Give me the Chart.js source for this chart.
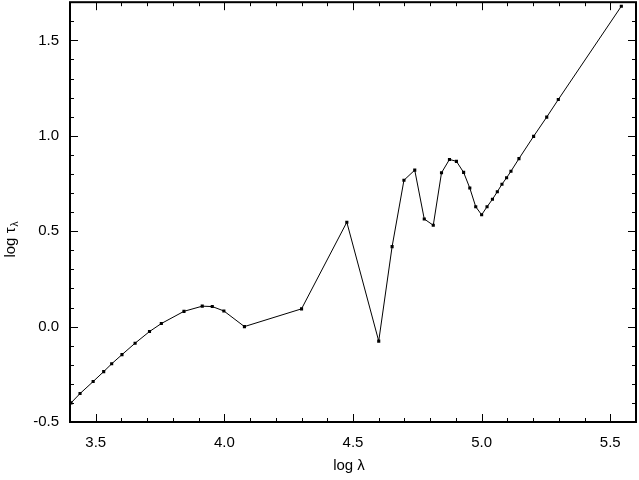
<!DOCTYPE html>
<html>
<head>
<meta charset="utf-8">
<script src="https://cdn.jsdelivr.net/npm/chart.js@4"></script>
<style>
  body { margin: 0; background: #fff; }
  #wrap { width: 639px; height: 480px; }
</style>
</head>
<body>
<div id="wrap"><canvas id="tauChart"></canvas></div>
<script>
// log lambda / log tau_lambda 값
const logLambda = [3.404, 3.439, 3.490, 3.531, 3.562, 3.602, 3.653, 3.709, 3.755, 3.843,
  3.914, 3.953, 3.998, 4.078, 4.300, 4.476, 4.600, 4.652, 4.698, 4.740,
  4.777, 4.812, 4.844, 4.875, 4.902, 4.930, 4.954, 4.977, 5.000, 5.021,
  5.042, 5.061, 5.079, 5.097, 5.114, 5.145, 5.202, 5.253, 5.298, 5.543];
const logTau = [-0.400, -0.351, -0.288, -0.236, -0.195, -0.147, -0.087, -0.026, 0.016, 0.080,
  0.107, 0.105, 0.082, 0.000, 0.093, 0.547, -0.076, 0.419, 0.767, 0.820,
  0.564, 0.531, 0.806, 0.876, 0.866, 0.808, 0.726, 0.628, 0.586, 0.628,
  0.667, 0.707, 0.746, 0.780, 0.814, 0.880, 0.997, 1.098, 1.190, 1.679];

// 축 눈금
const xTicks = [3.5, 4.0, 4.5, 5.0, 5.5];
const yTicks = [-0.5, 0.0, 0.5, 1.0, 1.5];
const xRange = [3.4, 5.6];
const yRange = [-0.5, 1.7];

Chart.defaults.font.family = '"Liberation Sans", Arial, sans-serif';
Chart.defaults.color = '#000';

// 테두리, 안쪽 눈금, 축 제목 그리기
const framePlugin = {
  id: 'frame',
  afterDraw(chart) {
    const { ctx, chartArea: a, scales: { x, y } } = chart;
    ctx.save();
    ctx.strokeStyle = '#000';
    ctx.lineWidth = 1;
    ctx.beginPath();
    for (let i = 0; i <= 22; i++) {
      const v = xRange[0] + i * 0.1;
      const px = Math.round(x.getPixelForValue(v)) + 0.5;
      const len = xTicks.some(t => Math.abs(t - v) < 1e-6) ? 8 : 4;
      ctx.moveTo(px, a.bottom); ctx.lineTo(px, a.bottom - len);
      ctx.moveTo(px, a.top); ctx.lineTo(px, a.top + len);
    }
    for (let i = 0; i <= 22; i++) {
      const v = yRange[0] + i * 0.1;
      const py = Math.round(y.getPixelForValue(v)) + 0.5;
      const len = yTicks.some(t => Math.abs(t - v) < 1e-6) ? 8 : 4;
      ctx.moveTo(a.left, py); ctx.lineTo(a.left + len, py);
      ctx.moveTo(a.right, py); ctx.lineTo(a.right - len, py);
    }
    ctx.stroke();

    ctx.lineWidth = 2;
    ctx.strokeRect(a.left, a.top, a.right - a.left, a.bottom - a.top);

    // x축 제목
    ctx.fillStyle = '#000';
    ctx.font = '15px "Liberation Sans", Arial, sans-serif';
    ctx.textAlign = 'center';
    ctx.textBaseline = 'middle';
    ctx.fillText('log \u03bb', 349, 466);

    // y축 제목 (아래첨자 포함)
    ctx.translate(11, 240);
    ctx.rotate(-Math.PI / 2);
    ctx.textAlign = 'left';
    const main = 'log \u03c4';
    const w1 = ctx.measureText(main).width;
    ctx.font = '10px "Liberation Sans", Arial, sans-serif';
    const w2 = ctx.measureText('\u03bb').width;
    const start = -(w1 + w2) / 2;
    ctx.font = '15px "Liberation Sans", Arial, sans-serif';
    ctx.fillText(main, start, 0);
    ctx.font = '10px "Liberation Sans", Arial, sans-serif';
    ctx.fillText('\u03bb', start + w1 + 1, 4);
    ctx.restore();
  }
};

new Chart(document.getElementById('tauChart'), {
  type: 'scatter',
  data: {
    datasets: [{
      data: logLambda.map((v, i) => ({ x: v, y: logTau[i] })),
      showLine: true,
      borderColor: '#000',
      borderWidth: 1,
      backgroundColor: '#000',
      pointStyle: 'rect',
      pointRadius: 2.2,
      pointBorderWidth: 0,
      pointHoverRadius: 2.2
    }]
  },
  options: {
    responsive: true,
    maintainAspectRatio: false,
    animation: false,
    layout: { padding: { top: 2, right: 3, left: 0, bottom: 0 } },
    plugins: { legend: { display: false }, tooltip: { enabled: false } },
    scales: {
      x: {
        type: 'linear',
        min: xRange[0],
        max: xRange[1],
        grid: { display: false, drawTicks: false },
        border: { display: false },
        afterBuildTicks: s => { s.ticks = xTicks.map(v => ({ value: v })); },
        afterFit: s => { s.height = 58; s.paddingLeft = 0; s.paddingRight = 0; },
        ticks: {
          padding: 12,
          font: { size: 15 },
          callback: v => v.toFixed(1)
        }
      },
      y: {
        type: 'linear',
        min: yRange[0],
        max: yRange[1],
        grid: { display: false, drawTicks: false },
        border: { display: false },
        afterBuildTicks: s => { s.ticks = yTicks.map(v => ({ value: v })); },
        afterFit: s => { s.width = 70; s.paddingTop = 0; s.paddingBottom = 0; },
        ticks: {
          padding: 11,
          font: { size: 15 },
          callback: v => v.toFixed(1)
        }
      }
    }
  },
  plugins: [framePlugin]
});
</script>
</body>
</html>
